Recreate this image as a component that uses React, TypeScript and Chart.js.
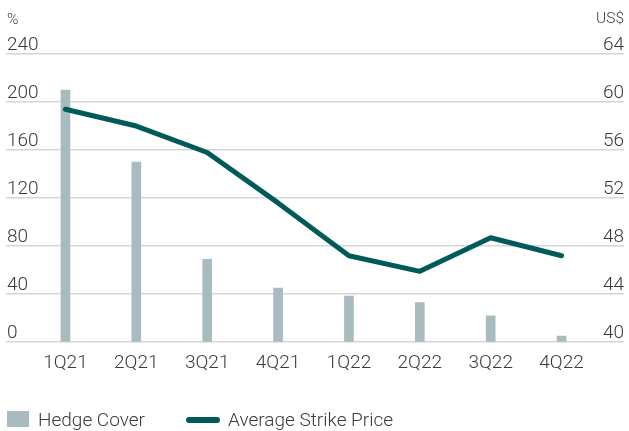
import React, { useEffect, useRef } from 'react';
import { Chart, registerables } from 'chart.js';

Chart.register(...registerables);

const categories = ['1Q21', '2Q21', '3Q21', '4Q21', '1Q22', '2Q22', '3Q22', '4Q22'];
const hedgeCover = [210, 150, 69, 45, 38.5, 33, 22, 5];
const avgStrikePrice = [59.4, 58.0, 55.8, 51.6, 47.2, 45.9, 48.7, 47.2];
const seriesNames = ['Hedge Cover', 'Average Strike Price'];
const leftUnit = '%';
const rightUnit = 'US$';
const leftMin = 0;
const leftMax = 240;
const leftStep = 40;
const rightMin = 40;
const rightMax = 64;
const rightStep = 4;

const FONT = "Roboto, 'Liberation Sans', Arial, sans-serif";
const TEXT = '#3a3a3a';
const BAR = '#a8bbbf';
const LINE = '#005a5a';
const GRID = '#d5d5d5';

const overlay = {
  id: 'overlay',
  afterDraw(chart: any) {
    const ctx = chart.ctx;
    ctx.save();
    ctx.fillStyle = TEXT;
    ctx.textBaseline = 'middle';
    ctx.font = `300 15.5px ${FONT}`;
    ctx.textAlign = 'left';
    ctx.fillText(leftUnit, 7, 20);
    ctx.textAlign = 'right';
    ctx.fillText(rightUnit, 624, 19);

    // legend
    const ly = 419;
    ctx.fillStyle = BAR;
    ctx.fillRect(7, ly - 8, 22, 16);
    ctx.font = `300 19px ${FONT}`;
    ctx.textAlign = 'left';
    ctx.fillStyle = TEXT;
    ctx.fillText(seriesNames[0], 38, ly + 2);
    ctx.strokeStyle = LINE;
    ctx.lineWidth = 6;
    ctx.lineCap = 'round';
    ctx.beginPath();
    ctx.moveTo(189, ly + 1);
    ctx.lineTo(217, ly + 1);
    ctx.stroke();
    ctx.fillText(seriesNames[1], 228, ly + 2);
    ctx.restore();
  },
};

export default function App() {
  const ref = useRef<HTMLCanvasElement | null>(null);
  useEffect(() => {
    if (!ref.current) return;
    const tickFont = { family: FONT, size: 19, weight: '300' as any };
    const chart = new Chart(ref.current, {
      type: 'bar',
      data: {
        labels: categories,
        datasets: [
          {
            type: 'line',
            label: seriesNames[1],
            data: avgStrikePrice,
            borderColor: LINE,
            backgroundColor: LINE,
            borderWidth: 5,
            pointRadius: 0,
            tension: 0,
            borderCapStyle: 'round',
            borderJoinStyle: 'round',
            yAxisID: 'y1',
            order: 1,
          } as any,
          {
            type: 'bar',
            label: seriesNames[0],
            data: hedgeCover,
            backgroundColor: BAR,
            barThickness: 9,
            yAxisID: 'y',
            order: 2,
          },
        ],
      },
      options: {
        responsive: false,
        animation: false,
        layout: { padding: { left: 6, right: 5, top: 54, bottom: 46 } },
        plugins: { legend: { display: false }, tooltip: { enabled: false } },
        scales: {
          x: {
            grid: { display: false, drawTicks: false },
            border: { display: false },
            ticks: { font: tickFont, color: TEXT, padding: 10 },
          },
          y: {
            position: 'left',
            min: leftMin,
            max: leftMax,
            afterFit: (s: any) => { s.width = 24; },
            ticks: { stepSize: leftStep, mirror: true, padding: -23, labelOffset: -9, font: tickFont, color: TEXT },
            grid: { color: GRID, lineWidth: 1.5, tickLength: 24, drawTicks: true },
            border: { display: false },
          },
          y1: {
            position: 'right',
            min: rightMin,
            max: rightMax,
            afterFit: (s: any) => { s.width = 27; },
            ticks: { stepSize: rightStep, mirror: true, padding: 27, labelOffset: -9, font: tickFont, color: TEXT },
            grid: { color: GRID, lineWidth: 1.5, tickLength: 27, drawTicks: true, drawOnChartArea: false },
            border: { display: false },
          },
        },
      },
      plugins: [overlay],
    });
    return () => chart.destroy();
  }, []);
  return (
    <div style={{ position: 'fixed', left: 0, top: 0, width: 629, height: 431, background: '#fff' }}>
      <canvas ref={ref} width={629} height={431} style={{ display: 'block' }} />
    </div>
  );
}
